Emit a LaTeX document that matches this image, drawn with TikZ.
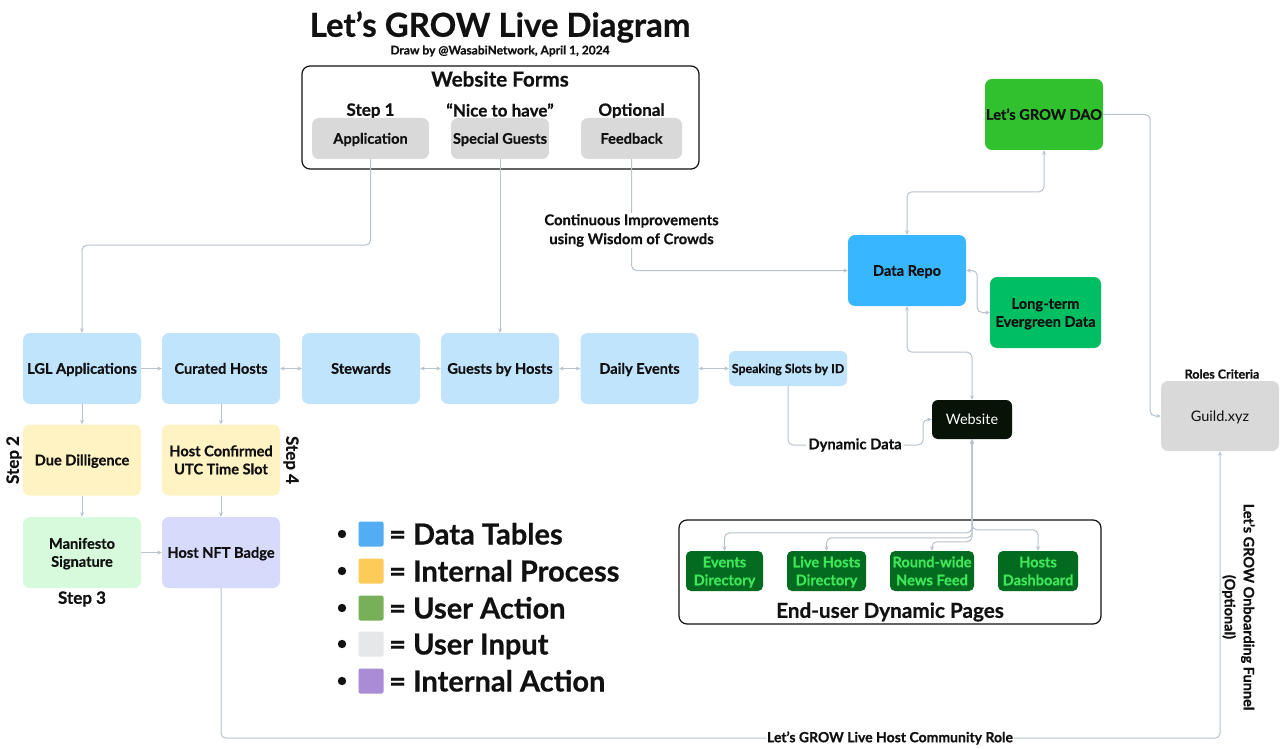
\documentclass[tikz,border=0pt]{standalone}
\usepackage{fontspec}
\setmainfont{Lato}[BoldFeatures={FakeBold=0.6}]
\usetikzlibrary{arrows.meta,calc}
\definecolor{linec}{RGB}{184,195,205}
\definecolor{txt}{RGB}{17,17,17}
\definecolor{ltblue}{RGB}{193,228,253}
\definecolor{ltyellow}{RGB}{255,243,196}
\definecolor{ltgreen}{RGB}{214,250,219}
\definecolor{lavender}{RGB}{216,218,252}
\definecolor{formgray}{RGB}{217,217,217}
\definecolor{repoblue}{RGB}{56,182,255}
\definecolor{daogreen}{RGB}{49,192,46}
\definecolor{evergreen}{RGB}{0,191,99}
\definecolor{webdark}{RGB}{6,19,6}
\definecolor{pagefill}{RGB}{3,107,31}
\definecolor{pagetext}{RGB}{62,230,90}
\definecolor{legblue}{RGB}{82,174,240}
\definecolor{legyellow}{RGB}{253,203,88}
\definecolor{leggreen}{RGB}{120,176,90}
\definecolor{leggray}{RGB}{230,231,232}
\definecolor{legpurple}{RGB}{169,139,214}
\begin{document}
\begin{tikzpicture}[x=1pt,y=-1pt,
  box/.style={rounded corners=7pt, align=center, inner sep=0pt, text=txt,
    text height=10.5pt, text depth=0pt,
    font=\bfseries\fontsize{14.6}{18}\selectfont},
  twoline/.style={text height=28.5pt, text depth=0pt},
  conn/.style={draw=linec, line width=1pt, rounded corners=5pt},
  arr/.style={-{Stealth[length=4.5pt,width=4pt]}},
  darr/.style={{Stealth[length=4.5pt,width=4pt]}-{Stealth[length=4.5pt,width=4pt]}},
  lbl/.style={text=txt, align=center, inner sep=1pt, font=\bfseries\fontsize{14.8}{19}\selectfont},
  steplbl/.style={text=txt, inner sep=0pt, font=\bfseries\fontsize{17}{19}\selectfont},
  legtxt/.style={text=txt, anchor=base west, inner sep=0pt, font=\bfseries\fontsize{29}{32}\selectfont},
  legsq/.style={rounded corners=2pt, minimum width=25pt, minimum height=25pt, inner sep=0pt},
  page/.style={box, twoline, fill=pagefill, text=pagetext, rounded corners=5pt, minimum height=40pt}
]
\useasboundingbox[fill=white] (0,0) rectangle (1280,749);

% title
\node[text=txt, font=\bfseries\fontsize{33}{38}\selectfont] (title) at (500,27) {Let’s GROW Live Diagram};
\node[text=txt, font=\bfseries\fontsize{12}{14}\selectfont] (sub) at (500,51) {Draw by @WasabiNetwork, April 1, 2024};

% website forms
\node[draw=txt, line width=1.2pt, rounded corners=8pt, minimum width=397pt, minimum height=103pt, inner sep=0pt] (forms) at (500.5,117.5) {};
\node[text=txt, font=\bfseries\fontsize{20.6}{23}\selectfont] (formst) at (500,79) {Website Forms};
\node[steplbl] (s1) at (370.5,111) {Step 1};
\node[steplbl] (nice) at (500,110) {“Nice to have”};
\node[steplbl] (opt) at (631.5,111) {Optional};
\node[box, fill=formgray, minimum width=117pt, minimum height=41pt] (app) at (370.5,138.5) {Application};
\node[box, fill=formgray, minimum width=98pt, minimum height=41pt] (sg) at (500,138.5) {Special Guests};
\node[box, fill=formgray, minimum width=101pt, minimum height=41pt] (fb) at (631.5,138.5) {Feedback};

% middle row
\node[box, fill=ltblue, minimum width=118pt, minimum height=71pt] (lgl) at (82,368.5) {LGL Applications};
\node[box, fill=ltblue, minimum width=118pt, minimum height=71pt] (cur) at (221,368.5) {Curated Hosts};
\node[box, fill=ltblue, minimum width=118pt, minimum height=71pt] (stew) at (361,368.5) {Stewards};
\node[box, fill=ltblue, minimum width=118pt, minimum height=71pt] (gbh) at (500,368.5) {Guests by Hosts};
\node[box, fill=ltblue, minimum width=118pt, minimum height=71pt] (daily) at (639.5,368.5) {Daily Events};
\node[box, fill=ltblue, rounded corners=6pt, minimum width=118pt, minimum height=35pt, text height=9pt, font=\bfseries\fontsize{12.4}{14}\selectfont] (slots) at (788,368.5) {Speaking Slots by ID};

% left column
\node[box, fill=ltyellow, minimum width=118pt, minimum height=71pt] (due) at (82,460) {Due Dilligence};
\node[box, twoline, fill=ltyellow, minimum width=118pt, minimum height=71pt] (hc) at (221,460) {Host Confirmed\\UTC Time Slot};
\node[box, twoline, fill=ltgreen, minimum width=118pt, minimum height=71pt] (man) at (82,552.5) {Manifesto\\Signature};
\node[box, fill=lavender, minimum width=118pt, minimum height=71pt] (nft) at (221,552.5) {Host NFT Badge};
\node[steplbl, rotate=90] (s2) at (14,460) {Step 2};
\node[steplbl, rotate=-90] (s4) at (291,460) {Step 4};
\node[steplbl] (s3) at (82,599) {Step 3};

% right side
\node[box, fill=repoblue, minimum width=118pt, minimum height=71pt] (repo) at (907,270.5) {Data Repo};
\node[box, fill=daogreen, minimum width=118pt, minimum height=71pt] (dao) at (1044,114.5) {Let’s GROW DAO};
\node[box, twoline, fill=evergreen, minimum width=111pt, minimum height=71pt] (long) at (1045.5,312.5) {Long-term\\Evergreen Data};
\node[box, fill=webdark, text=white, rounded corners=6pt, minimum width=80pt, minimum height=39pt, font=\fontsize{14.4}{16}\selectfont] (web) at (972,419.5) {Website};
\node[box, fill=formgray, minimum width=118pt, minimum height=70pt, font=\fontsize{14.5}{16}\selectfont] (guild) at (1220,416) {Guild.xyz};
\node[text=txt, font=\bfseries\fontsize{12.5}{14}\selectfont] (roles) at (1222,374) {Roles Criteria};

% end-user pages
\node[draw=txt, line width=1.2pt, rounded corners=8pt, minimum width=422pt, minimum height=104pt, inner sep=0pt] (enduser) at (890,572) {};
\node[text=txt, font=\bfseries\fontsize{20.7}{23}\selectfont] (endt) at (890,612) {End-user Dynamic Pages};
\node[page, minimum width=77pt] (ev) at (724.5,571) {Events\\Directory};
\node[page, minimum width=79pt] (lh) at (826.5,571) {Live Hosts\\Directory};
\node[page, minimum width=84pt] (rw) at (932,571) {Round-wide\\News Feed};
\node[page, minimum width=80pt] (hd) at (1038,571) {Hosts\\Dashboard};

% connectors
\draw[conn,arr] (app.south) -- ++(0,86) -| (lgl.north);
\draw[conn,arr] (sg.south) -- (gbh.north);
\draw[conn,arr] (fb.south) |- (repo.west);
\node[lbl, fill=white] (ci) at (631.5,230.5) {Continuous Improvements\\using Wisdom of Crowds};

\draw[conn,arr] (lgl.east) -- (cur.west);
\draw[conn,darr] (cur.east) -- (stew.west);
\draw[conn,darr] (stew.east) -- (gbh.west);
\draw[conn,darr] (gbh.east) -- (daily.west);
\draw[conn,darr] (daily.east) -- (slots.west);

\draw[conn,arr] (lgl.south) -- (due.north);
\draw[conn,arr] (due.south) -- (man.north);
\draw[conn,arr] (man.east) -- (nft.west);
\draw[conn,arr] (cur.south) -- (hc.north);
\draw[conn,arr] (hc.south) -- (nft.north);

\coordinate (ddbend) at (923,445);
\draw[conn,arr] (slots.south) |- (ddbend) |- (web.west);
\node[lbl, fill=white, inner sep=2pt] (dd) at (855,445) {Dynamic Data};

\draw[conn,darr] (repo.north) -- ++(0,-43) -| (dao.south);
\draw[conn,darr] (repo.east) -- ++(11,0) |- (long.west);
\draw[conn,darr] (repo.south) -- ++(0,46) -| (web.north);
\draw[conn,arr] (dao.east) -- ++(47,0) |- (guild.west);

\draw[conn,darr] (web.south) |- ([yshift=18pt]ev.north) -- (ev.north);
\draw[conn,darr] (web.south) |- ([yshift=13pt]lh.north) -- (lh.north);
\draw[conn,darr] (web.south) |- ([yshift=9pt]rw.north) -- (rw.north);
\draw[conn,darr] (web.south) |- ([yshift=21pt]hd.north) -- (hd.north);

\draw[conn,arr] (nft.south) -- ++(0,150) -| (guild.south);
\node[lbl, fill=white, font=\bfseries\fontsize{14}{16}\selectfont] (role) at (890,738) {Let’s GROW Live Host Community Role};
\node[lbl, rotate=-90, font=\bfseries\fontsize{14.5}{19}\selectfont] (funnel) at (1238.5,607) {Let’s GROW Onboarding Funnel\\(Optional)};

% legend
\foreach \yy/\cc/\tt [count=\i] in {534/legblue/Data Tables, 571/legyellow/Internal Process, 608/leggreen/User Action, 644/leggray/User Input, 681/legpurple/Internal Action}{
  \fill[txt] (342,\yy) circle (4.2pt);
  \node[legsq, fill=\cc] (sq\i) at (371,\yy) {};
  \node[legtxt] (lt\i) at (389,\yy+10.5) {= \tt};
}
\end{tikzpicture}
\end{document}
